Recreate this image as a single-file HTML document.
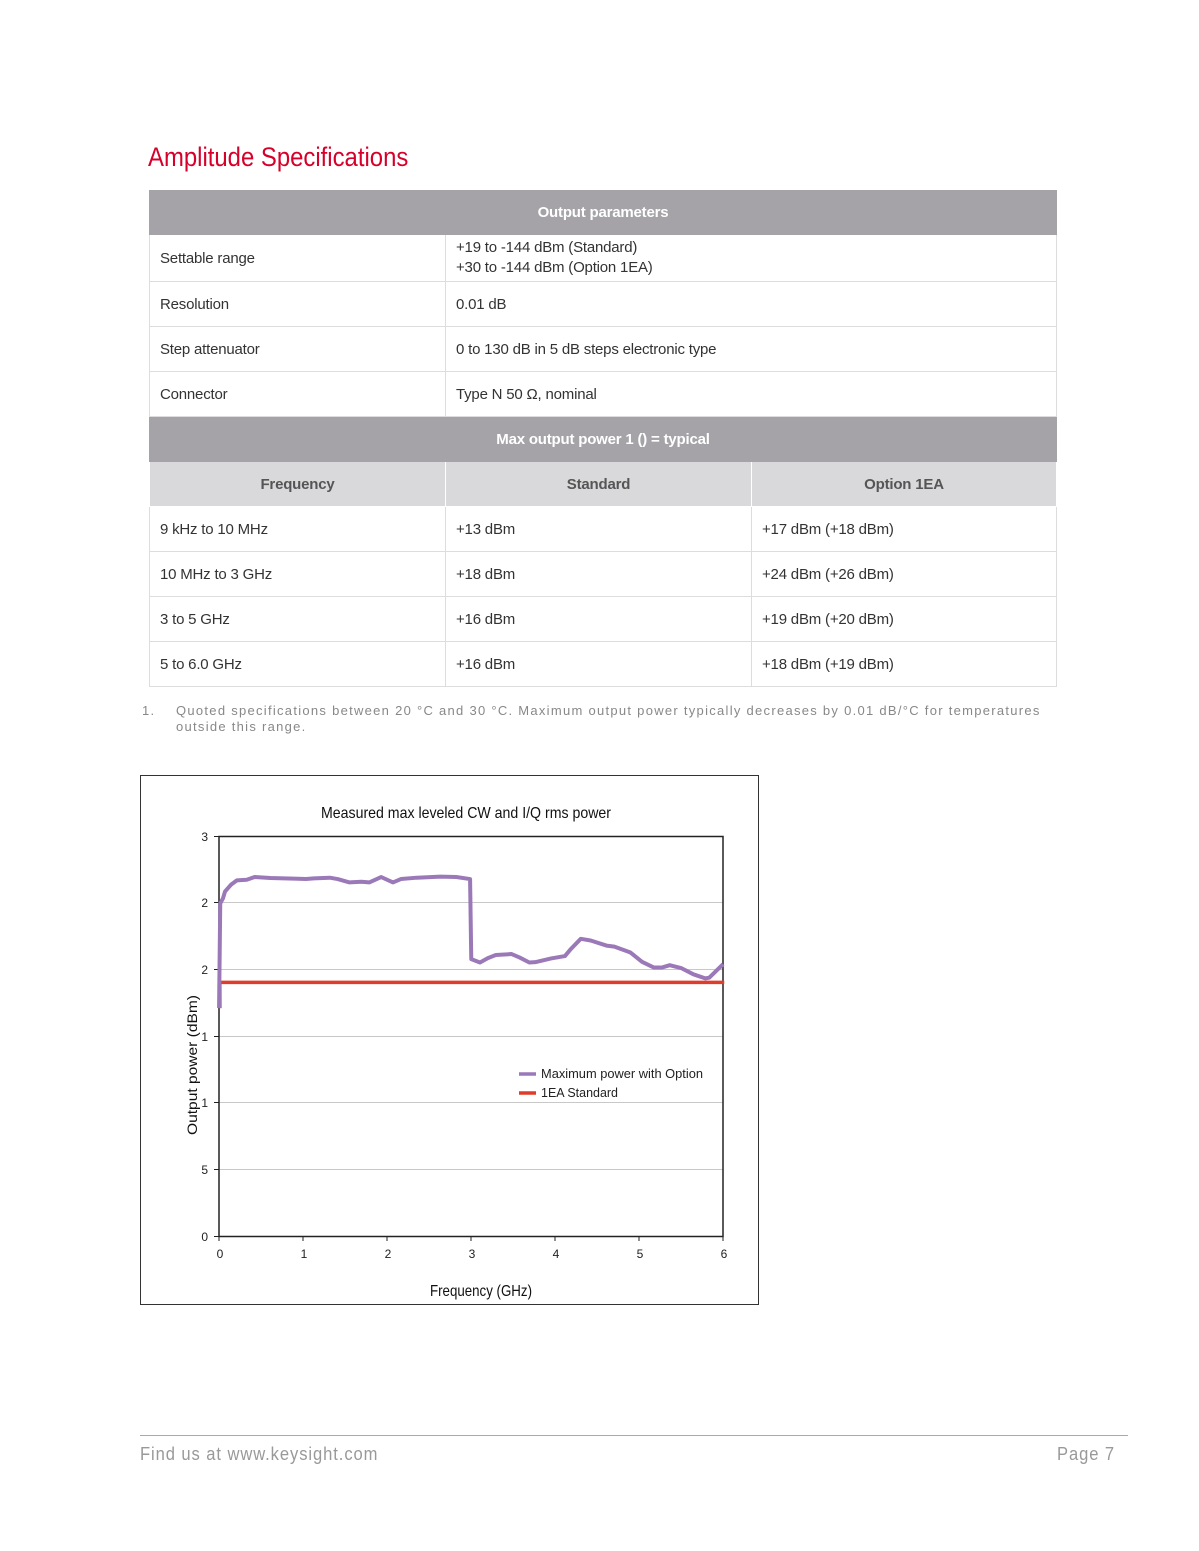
<!DOCTYPE html>
<html><head><meta charset="utf-8"><style>
body{margin:0;width:1199px;height:1551px;background:#fff;position:relative;font-family:"Liberation Sans",sans-serif;overflow:hidden}
.a{position:absolute;white-space:nowrap}
.h{font-size:27px;color:#d6002a;left:148px;top:142px;transform:scaleX(0.885);transform-origin:left}
table{position:absolute;left:149px;top:190px;width:908px;border-collapse:collapse;font-size:15px;color:#333;letter-spacing:-0.2px}
td{border:1px solid #ddd;padding:0 10px;height:45px;box-sizing:border-box}
.g td{background:#a5a3a8;color:#fff;font-weight:bold;text-align:center;border-color:#a5a3a8}
.s td{background:#d9d9dc;color:#555;font-weight:bold;text-align:center;border-color:#fff}
.n{font-size:13px;color:#888;letter-spacing:1.28px}
</style></head><body>
<div class="a h">Amplitude Specifications</div>
<table>
<tr class="g" style="height:44px"><td colspan="3" style="height:44px">Output parameters</td></tr>
<tr><td style="width:296px;height:47px">Settable range</td><td colspan="2" style="line-height:20px">+19 to -144 dBm (Standard)<br>+30 to -144 dBm (Option 1EA)</td></tr>
<tr><td>Resolution</td><td colspan="2">0.01 dB</td></tr>
<tr><td style="height:44px">Step attenuator</td><td colspan="2">0 to 130 dB in 5 dB steps electronic type</td></tr>
<tr><td style="height:44px">Connector</td><td colspan="2">Type N 50 Ω, nominal</td></tr>
<tr class="g"><td colspan="3">Max output power 1 () = typical</td></tr>
<tr class="s"><td>Frequency</td><td style="width:306px">Standard</td><td>Option 1EA</td></tr>
<tr><td>9 kHz to 10 MHz</td><td>+13 dBm</td><td>+17 dBm (+18 dBm)</td></tr>
<tr><td>10 MHz to 3 GHz</td><td>+18 dBm</td><td>+24 dBm (+26 dBm)</td></tr>
<tr><td style="height:44px">3 to 5 GHz</td><td>+16 dBm</td><td>+19 dBm (+20 dBm)</td></tr>
<tr><td style="height:44px">5 to 6.0 GHz</td><td>+16 dBm</td><td>+18 dBm (+19 dBm)</td></tr>
</table>
<div class="a n" style="left:142px;top:703px">1.</div>
<div class="a n" style="left:176px;top:703px;line-height:16px">Quoted specifications between 20 °C and 30 °C. Maximum output power typically decreases by 0.01 dB/°C for temperatures<br>outside this range.</div>

<svg class="a" style="left:0;top:0" width="1199" height="1551">
<rect x="140.5" y="775.5" width="618" height="529" fill="none" stroke="#333" stroke-width="1"/>
<g stroke="#c8c8c8" stroke-width="1">
<line x1="219" x2="723" y1="902.5" y2="902.5"/><line x1="219" x2="723" y1="969.5" y2="969.5"/>
<line x1="219" x2="723" y1="1036.5" y2="1036.5"/><line x1="219" x2="723" y1="1102.5" y2="1102.5"/>
<line x1="219" x2="723" y1="1169.5" y2="1169.5"/></g>
<rect x="219" y="836.5" width="504" height="400" fill="none" stroke="#222" stroke-width="1.5"/>
<g stroke="#222" stroke-width="1">
<line x1="214" x2="219" y1="836.5" y2="836.5"/><line x1="214" x2="219" y1="902.5" y2="902.5"/><line x1="214" x2="219" y1="969.5" y2="969.5"/><line x1="214" x2="219" y1="1036.5" y2="1036.5"/><line x1="214" x2="219" y1="1102.5" y2="1102.5"/><line x1="214" x2="219" y1="1169.5" y2="1169.5"/><line x1="214" x2="219" y1="1236.5" y2="1236.5"/>
<line x1="303" x2="303" y1="1236" y2="1241"/><line x1="387" x2="387" y1="1236" y2="1241"/><line x1="471" x2="471" y1="1236" y2="1241"/><line x1="555" x2="555" y1="1236" y2="1241"/><line x1="639" x2="639" y1="1236" y2="1241"/><line x1="219" x2="219" y1="1236" y2="1241"/><line x1="723" x2="723" y1="1236" y2="1241"/></g>
<g font-family="Liberation Sans, sans-serif" font-size="12" fill="#222" text-anchor="end">
<text x="208" y="841">3</text><text x="208" y="907">2</text><text x="208" y="974">2</text><text x="208" y="1041">1</text><text x="208" y="1107">1</text><text x="208" y="1174">5</text><text x="208" y="1241">0</text></g>
<g font-family="Liberation Sans, sans-serif" font-size="12" fill="#222" text-anchor="middle">
<text x="220" y="1258">0</text><text x="304" y="1258">1</text><text x="388" y="1258">2</text><text x="472" y="1258">3</text><text x="556" y="1258">4</text><text x="640" y="1258">5</text><text x="724" y="1258">6</text></g>
<text x="321" y="818" font-family="Liberation Sans, sans-serif" font-size="16" fill="#111" textLength="290" lengthAdjust="spacingAndGlyphs">Measured max leveled CW and I/Q rms power</text>
<text x="430" y="1296" font-family="Liberation Sans, sans-serif" font-size="16" fill="#111" textLength="102" lengthAdjust="spacingAndGlyphs">Frequency (GHz)</text>
<text transform="translate(197,1135) rotate(-90)" font-family="Liberation Sans, sans-serif" font-size="14" fill="#111" textLength="140" lengthAdjust="spacingAndGlyphs">Output power (dBm)</text>
<g transform="translate(140,775) scale(0.3953,0.3378)">
<polyline fill="none" stroke="#e03c2c" stroke-width="3.5" vector-effect="non-scaling-stroke" points="202,690 202,614 1478,614"/>
<polyline fill="none" stroke="#9b79b8" stroke-width="4" stroke-linejoin="round" vector-effect="non-scaling-stroke" points="200,690 203,380 210,365 215,345 230,325 245,312 270,310 290,302 330,305 400,307 420,308 440,306 480,304 500,308 530,318 560,316 580,318 610,302 640,318 660,308 700,304 760,301 800,302 835,308 838,545 860,555 880,542 900,533 940,530 960,540 985,555 1000,554 1040,543 1075,536 1090,515 1115,485 1140,490 1180,505 1200,508 1240,525 1270,553 1300,570 1320,570 1340,563 1370,572 1400,590 1430,602 1440,600 1475,560"/>
</g>
<line x1="519" x2="536" y1="1074" y2="1074" stroke="#9b79b8" stroke-width="3.5"/>
<line x1="519" x2="536" y1="1093" y2="1093" stroke="#e03c2c" stroke-width="3.5"/>
<g font-family="Liberation Sans, sans-serif" font-size="13" fill="#222">
<text x="541" y="1078" textLength="162" lengthAdjust="spacingAndGlyphs">Maximum power with Option</text><text x="541" y="1097" textLength="77" lengthAdjust="spacingAndGlyphs">1EA Standard</text></g>
<line x1="140" x2="1128" y1="1435.5" y2="1435.5" stroke="#aaa" stroke-width="1"/>
</svg>
<div class="a" style="left:140px;top:1444px;font-size:18px;color:#999;letter-spacing:1px;transform:scaleX(0.92);transform-origin:left">Find us at www.keysight.com</div>
<div class="a" style="left:1057px;top:1444px;font-size:18px;color:#999;letter-spacing:1px;transform:scaleX(0.92);transform-origin:left">Page 7</div>
</body></html>
